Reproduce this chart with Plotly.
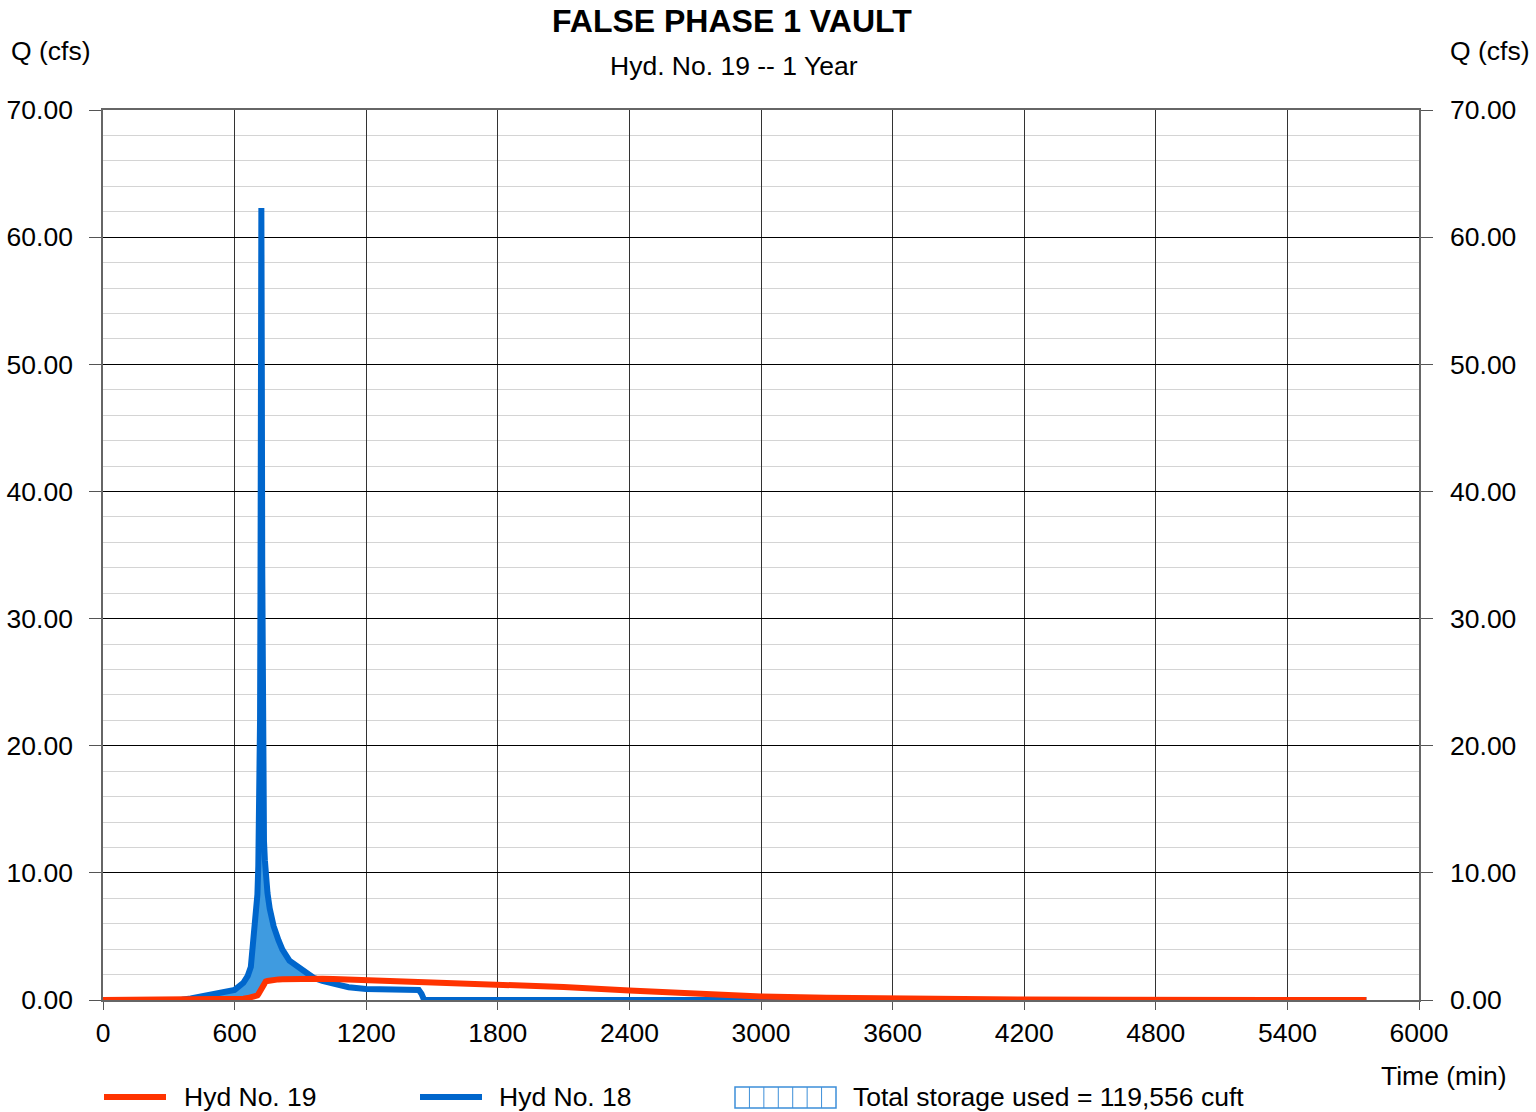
import numpy as np
import plotly.graph_objects as go

# ---------------- data ----------------
time_min = [0, 300, 360, 400, 450, 500, 550, 600,
            640, 660, 674, 682, 690, 696, 700, 704, 708, 712,
            716, 718, 720, 722, 724, 726, 728, 730, 734, 738,
            742, 750, 760, 778, 800, 818, 850, 880, 920, 960,
            1000, 1050, 1120, 1200, 1300, 1440, 1452, 1464, 1500, 1800,
            2100, 2400, 2700, 3000, 3300, 3600, 3900, 4200, 4600, 5000,
            5400, 5760]

hyd18_inflow = [0, 0, 0.02, 0.12, 0.28, 0.44, 0.6, 0.8,
                1.35, 1.9, 2.6, 3.9, 5.0, 5.9, 7.0, 8.3, 10.5, 14,
                22, 32, 48, 62.3, 50, 34, 22, 16, 12.5, 11,
                9.8, 8.4, 7.2, 5.8, 4.7, 3.96, 3.1, 2.7, 2.15, 1.75,
                1.5, 1.25, 1.0, 0.87, 0.82, 0.78, 0.5, 0, 0, 0,
                0, 0, 0, 0, 0, 0, 0, 0, 0, 0,
                0, 0]

hyd19_outflow = [0, 0, 0, 0, 0, 0, 0, 0.05,
                 0.1, 0.15, 0.18, 0.2, 0.24, 0.28, 0.3, 0.36, 0.45, 0.57,
                 0.7, 0.78, 0.86, 0.94, 1.02, 1.1, 1.17, 1.23, 1.33, 1.4,
                 1.45, 1.5, 1.54, 1.59, 1.62, 1.64, 1.66, 1.67, 1.68, 1.68,
                 1.68, 1.66, 1.62, 1.58, 1.55, 1.5, 1.5, 1.49, 1.47, 1.26,
                 1.02, 0.75, 0.5, 0.28, 0.17, 0.09, 0.04, 0.03, 0.02, 0.01,
                 0.0, 0.0]

x_ticks = [0, 600, 1200, 1800, 2400, 3000, 3600, 4200, 4800, 5400, 6000]
y_ticks = [0, 10, 20, 30, 40, 50, 60, 70]

title_text = "FALSE PHASE 1 VAULT"
subtitle_text = "Hyd. No. 19 -- 1 Year"
storage_text = "Total storage used = 119,556 cuft"

RED = "#ff3300"
BLUE = "#0066cc"
FILL = "#3f9be0"
FONT = "Liberation Sans, Arial, sans-serif"

storage_upper = np.maximum(np.array(hyd18_inflow), np.array(hyd19_outflow))

fig = go.Figure()
# baseline for storage fill
fig.add_trace(go.Scatter(x=time_min, y=hyd19_outflow, mode="lines",
                         line=dict(width=0, color=RED), showlegend=False,
                         hoverinfo="skip"))
fig.add_trace(go.Scatter(x=time_min, y=storage_upper, mode="lines",
                         line=dict(width=0, color=FILL), fill="tonexty",
                         fillcolor=FILL, showlegend=False, hoverinfo="skip"))
fig.add_trace(go.Scatter(x=time_min, y=hyd18_inflow, mode="lines",
                         name="Hyd No. 18", line=dict(width=6, color=BLUE),
                         showlegend=False))
fig.add_trace(go.Scatter(x=time_min, y=hyd19_outflow, mode="lines",
                         name="Hyd No. 19", line=dict(width=6, color=RED),
                         showlegend=False))
# dummy trace to show right axis
fig.add_trace(go.Scatter(x=[0], y=[0], yaxis="y2", mode="markers",
                         marker=dict(opacity=0), showlegend=False,
                         hoverinfo="skip"))

tickfont = dict(family=FONT, size=26.5, color="#000000")

fig.update_layout(
    width=1536, height=1112,
    margin=dict(l=103, r=117, t=110, b=112, autoexpand=False),
    paper_bgcolor="white", plot_bgcolor="white",
    font=dict(family=FONT, color="#000000"),
    showlegend=False,
    xaxis=dict(range=[0, 6000], tickvals=x_ticks, ticktext=[str(v) for v in x_ticks],
               showgrid=True, gridcolor="#333333", gridwidth=1,
               ticks="outside", ticklen=8, tickcolor="#555555", tickwidth=1,
               showline=True, linecolor="#666666", linewidth=1.5, mirror=True,
               zeroline=False, tickfont=tickfont, ticklabelstandoff=0,
               automargin=False),
    yaxis=dict(range=[0, 70], tickvals=y_ticks, ticktext=[f"{v:.2f}" for v in y_ticks],
               showgrid=True, gridcolor="#000000", gridwidth=1,
               minor=dict(dtick=2, tick0=0, showgrid=True, gridcolor="#d4d4d4", gridwidth=1),
               ticks="outside", ticklen=12, tickcolor="#555555", tickwidth=1,
               showline=True, linecolor="#666666", linewidth=1.5,
               zeroline=False, tickfont=tickfont, ticklabelstandoff=11,
               automargin=False),
    yaxis2=dict(range=[0, 70], overlaying="y", side="right",
                tickvals=y_ticks, ticktext=[f"{v:.2f}" for v in y_ticks],
                showgrid=False, ticks="outside", ticklen=12, tickcolor="#555555",
                showline=True, linecolor="#666666", linewidth=1.5,
                zeroline=False, tickfont=tickfont, ticklabelstandoff=12,
                automargin=False),
)

W = 1316.0
H = 890.0
def px(x):
    return (x - 103) / W
def py(y):
    return (1000 - y) / H

annotations = [
    dict(text=f"<b>{title_text}</b>", x=px(732), y=py(21), font=dict(size=32)),
    dict(text=subtitle_text, x=px(734), y=py(66), font=dict(size=26.5)),
    dict(text="Q (cfs)", x=px(51), y=py(51), font=dict(size=26.5)),
    dict(text="Q (cfs)", x=px(1490), y=py(51), font=dict(size=26.5)),
    dict(text="Time (min)", x=px(1444), y=py(1076), font=dict(size=26.5)),
    dict(text="Hyd No. 19", x=px(182), y=py(1097), xanchor="left", font=dict(size=26.5)),
    dict(text="Hyd No. 18", x=px(497), y=py(1097), xanchor="left", font=dict(size=26.5)),
    dict(text=storage_text, x=px(851), y=py(1097), xanchor="left", font=dict(size=26.5)),
]
for a in annotations:
    a.setdefault("xanchor", "center")
    a.update(xref="paper", yref="paper", yanchor="middle", showarrow=False)
    a["font"] = dict(family=FONT, color="#000000", **a["font"])
fig.update_layout(annotations=annotations)

shapes = [
    dict(type="line", x0=px(104), x1=px(166), y0=py(1097), y1=py(1097),
         line=dict(color=RED, width=6)),
    dict(type="line", x0=px(420), x1=px(482), y0=py(1097), y1=py(1097),
         line=dict(color=BLUE, width=6)),
    dict(type="rect", x0=px(735), x1=px(836), y0=py(1108), y1=py(1087),
         line=dict(color="#3d8fd9", width=1.5), fillcolor="rgba(0,0,0,0)"),
]
for k in range(1, 7):
    xx = 735 + k * (101 / 7)
    shapes.append(dict(type="line", x0=px(xx), x1=px(xx), y0=py(1108), y1=py(1087),
                       line=dict(color="#3d8fd9", width=1)))
for s in shapes:
    s.update(xref="paper", yref="paper", layer="above")
fig.update_layout(shapes=shapes)

fig.write_html("out.html", config={"displayModeBar": False},
               post_script="document.body.style.margin='0';")
